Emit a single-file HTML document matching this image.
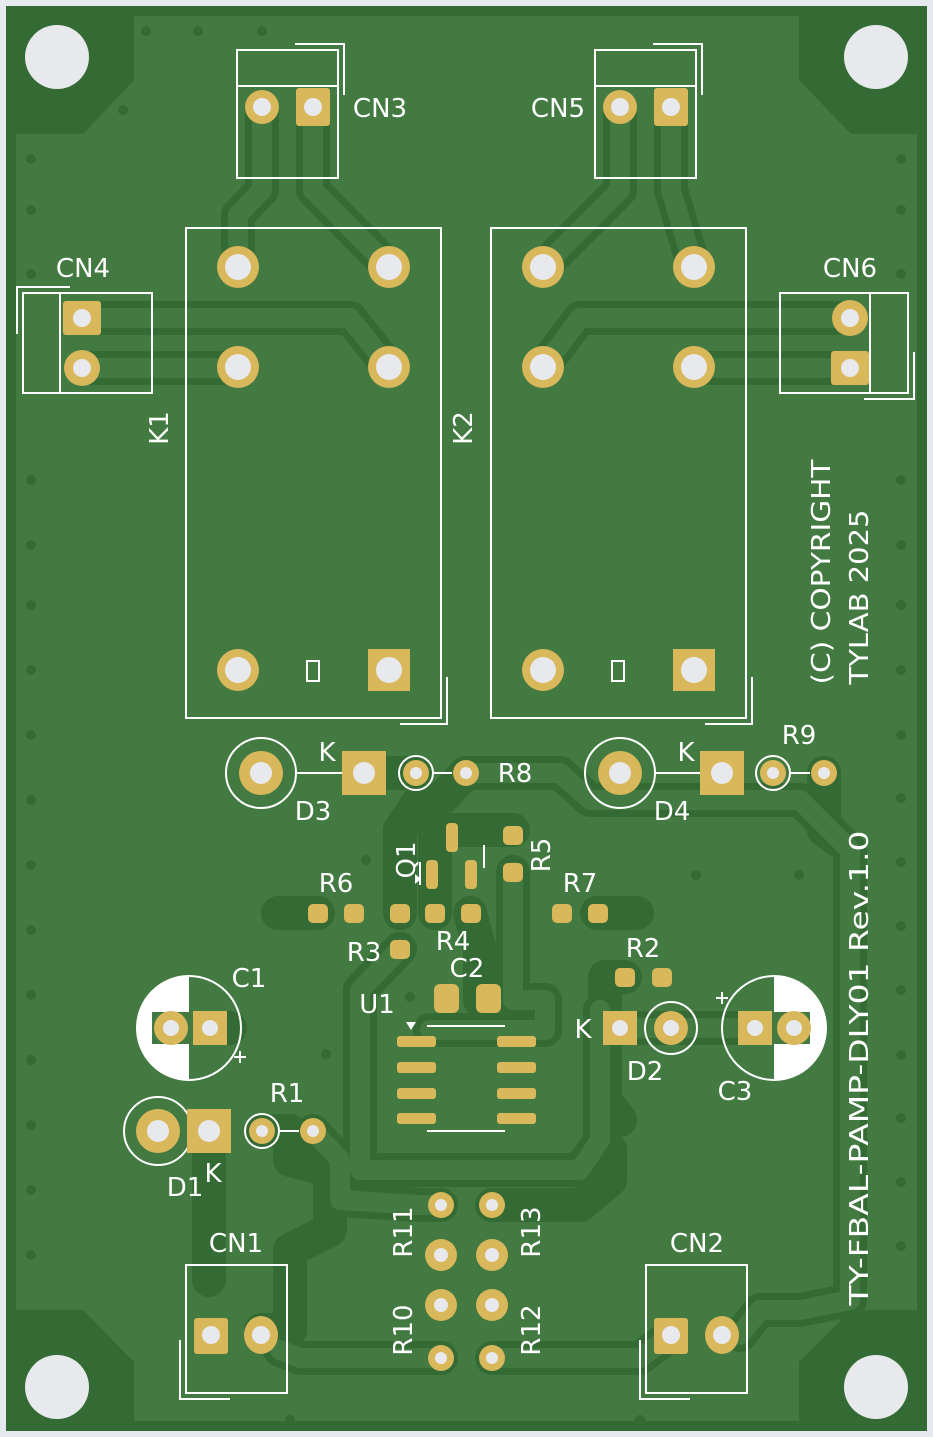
<!DOCTYPE html>
<html><head><meta charset="utf-8"><style>
html,body{margin:0;padding:0;background:#e6e9ed;}
svg{display:block}
text{font-family:"DejaVu Sans","Liberation Sans",sans-serif;fill:#fff;font-size:26px}
</style></head><body>
<svg width="933" height="1437" viewBox="0 0 933 1437" xmlns="http://www.w3.org/2000/svg">
<rect x="0" y="0" width="933" height="1437" fill="#e6e9ed"/>
<rect x="6" y="6" width="921" height="1425" fill="#346a34"/>
<path d="M134,16 H799 V80 L851,134 H917 V1310 H851 L799,1362 V1421 H134 V1362 L83,1310 H16 V134 H83 L134,80 Z" fill="#427a41"/>
<g fill="none" stroke="#346a34" stroke-width="34" stroke-linejoin="round" stroke-linecap="round">
<path d="M262,107 V190 L238,215 V267"/>
<path d="M313,107 V190 L389,267"/>
<path d="M620,107 V190 L543,267"/>
<path d="M671,107 V190 L694,267"/>
<path d="M82,318 H350 L389,367"/>
<path d="M82,368 H238"/>
<path d="M850,318 H580 L543,367"/>
<path d="M850,368 H694"/>
<path d="M364,773 H416 M466,773 L440,800 H420 L400,830 V913"/>
<path d="M466,773 H560 L590,800 H800 L850,850 V1300 L800,1310 H760 L740,1335"/>
<path d="M824,773 V830 L845,845"/>
<path d="M278,913 H318 M597,913 H637"/>
<path d="M435,913 V830 H513"/>
<path d="M513,872 V1000 H545 V1030 H430"/>
<path d="M400,949 L360,990 V1170 H580 L600,1140 V1010"/>
<path d="M470,913 L480,950 V1000"/>
<path d="M625,977 H605 V1100 L620,1120"/>
<path d="M620,1028 H755"/>
<path d="M210,1028 H230 M262,1131 H290 V1160 L330,1170 V1230 L290,1250 V1330 H261"/>
<path d="M313,1131 L340,1160 V1200 L420,1205 H441"/>
<path d="M209,1131 V1280"/>
<path d="M441,1358 H300 L280,1350 M492,1358 H640 L671,1335"/>
<path d="M492,1205 H580 L610,1180 V1150"/>
</g>
<g fill="none" stroke="#427a41" stroke-width="20" stroke-linejoin="round" stroke-linecap="round">
<path d="M262,107 V190 L238,215 V267"/>
<path d="M313,107 V190 L389,267"/>
<path d="M620,107 V190 L543,267"/>
<path d="M671,107 V190 L694,267"/>
<path d="M82,318 H350 L389,367"/>
<path d="M82,368 H238"/>
<path d="M850,318 H580 L543,367"/>
<path d="M850,368 H694"/>
<path d="M466,773 H560 L590,800 H800 L850,850 V1300 L800,1310 H760 L740,1335"/>
<path d="M513,872 V1000 H545 V1030 H430"/>
<path d="M400,949 L360,990 V1170 H580 L600,1140 V1010"/>
<path d="M620,1028 H755"/>
<path d="M313,1131 L340,1160 V1200 L420,1205 H441"/>
<path d="M441,1358 H300 L280,1350 M492,1358 H640 L671,1335"/>
</g>
<g fill="#346a34">
<circle cx="146" cy="31" r="5"/><circle cx="198" cy="31" r="5"/><circle cx="262" cy="31" r="5"/><circle cx="123" cy="110" r="5"/>
<circle cx="31" cy="159" r="5"/><circle cx="31" cy="210" r="5"/><circle cx="31" cy="274" r="5"/>
<circle cx="31" cy="480" r="5"/><circle cx="31" cy="545" r="5"/><circle cx="31" cy="605" r="5"/><circle cx="31" cy="670" r="5"/><circle cx="31" cy="735" r="5"/><circle cx="31" cy="800" r="5"/><circle cx="31" cy="865" r="5"/><circle cx="31" cy="930" r="5"/><circle cx="31" cy="995" r="5"/><circle cx="31" cy="1060" r="5"/><circle cx="31" cy="1125" r="5"/><circle cx="31" cy="1190" r="5"/><circle cx="31" cy="1255" r="5"/>
<circle cx="901" cy="159" r="5"/><circle cx="901" cy="210" r="5"/><circle cx="901" cy="274" r="5"/><circle cx="901" cy="480" r="5"/><circle cx="901" cy="545" r="5"/><circle cx="901" cy="605" r="5"/><circle cx="901" cy="670" r="5"/><circle cx="901" cy="735" r="5"/><circle cx="901" cy="798" r="5"/><circle cx="901" cy="862" r="5"/><circle cx="901" cy="926" r="5"/><circle cx="901" cy="990" r="5"/><circle cx="901" cy="1055" r="5"/><circle cx="901" cy="1118" r="5"/><circle cx="901" cy="1182" r="5"/><circle cx="901" cy="1246" r="5"/>
<circle cx="696" cy="875" r="5"/><circle cx="799" cy="875" r="5"/><circle cx="366" cy="860" r="5"/><circle cx="410" cy="997" r="5"/><circle cx="326" cy="1054" r="5"/><circle cx="607" cy="1168" r="5"/><circle cx="640" cy="1420" r="5"/><circle cx="290" cy="1420" r="5"/>
</g>
<g fill="#e8e9ec"><circle cx="57" cy="57" r="32"/><circle cx="876" cy="57" r="32"/><circle cx="57" cy="1387" r="32"/><circle cx="876" cy="1387" r="32"/></g>
<g fill="none" stroke="#fff" stroke-width="2">
<rect x="237" y="50" width="101" height="128"/><line x1="237" y1="86" x2="338" y2="86"/><path d="M295,44 H344 V95"/>
<rect x="595" y="50" width="101" height="128"/><line x1="595" y1="86" x2="696" y2="86"/><path d="M653,44 H702 V95"/>
<rect x="186" y="228" width="255" height="490"/><path d="M400,724 H447 V677"/>
<rect x="491" y="228" width="255" height="490"/><path d="M705,724 H752 V677"/>
<rect x="307" y="661" width="12" height="20"/><rect x="612" y="661" width="12" height="20"/>
<rect x="23" y="293" width="129" height="100"/><line x1="60" y1="293" x2="60" y2="393"/><path d="M17,334 V287 H70"/>
<rect x="780" y="293" width="128" height="100"/><line x1="870" y1="293" x2="870" y2="393"/><path d="M914,352 V399 H864"/>
<rect x="186" y="1265" width="101" height="128"/><path d="M180,1340 V1399 H230"/>
<rect x="646" y="1265" width="101" height="128"/><path d="M640,1340 V1399 H690"/>
<circle cx="261" cy="773" r="35"/><line x1="296" y1="773" x2="342" y2="773"/>
<circle cx="620" cy="773" r="35"/><line x1="655" y1="773" x2="700" y2="773"/>
<circle cx="416" cy="773" r="17"/><line x1="433" y1="773" x2="452" y2="773"/>
<circle cx="773" cy="773" r="17"/><line x1="790" y1="773" x2="810" y2="773"/>
<circle cx="158" cy="1131" r="34"/>
<circle cx="262" cy="1131" r="17"/><line x1="279" y1="1131" x2="299" y2="1131"/>
<circle cx="671" cy="1028" r="26"/>
<circle cx="189" cy="1028" r="52"/><circle cx="774" cy="1028" r="52"/>
<path d="M427,1026 H505 M427,1131 H505"/>
<line x1="420" y1="862" x2="420" y2="885"/><line x1="484" y1="845" x2="484" y2="868"/>
</g>
<path d="M189,976 A52,52 0 0 0 189,1080 V1044 H152 V1012 H189 Z" fill="#fff"/>
<path d="M774,976 A52,52 0 0 1 774,1080 V1044 H810 V1012 H774 Z" fill="#fff"/>
<g stroke="#fff" stroke-width="2"><path d="M234,1057 H246 M240,1051 V1063"/><path d="M716,998 H728 M722,992 V1004"/></g>
<path d="M406,1022 L416,1022 L411,1030 Z" fill="#fff"/>
<path d="M415,874 L421,879 L415,884 Z" fill="#fff"/>
<g fill="#d9b75b">
<circle cx="262" cy="107" r="17"/><rect x="296" y="88" width="34" height="38" rx="3"/>
<circle cx="620" cy="107" r="17"/><rect x="654" y="88" width="34" height="38" rx="3"/>
<circle cx="238" cy="267" r="21"/><circle cx="389" cy="267" r="21"/><circle cx="238" cy="367" r="21"/><circle cx="389" cy="367" r="21"/><circle cx="238" cy="670" r="21"/><rect x="368" y="649" width="42" height="42"/>
<circle cx="543" cy="267" r="21"/><circle cx="694" cy="267" r="21"/><circle cx="543" cy="367" r="21"/><circle cx="694" cy="367" r="21"/><circle cx="543" cy="670" r="21"/><rect x="673" y="649" width="42" height="42"/>
<rect x="63" y="301" width="38" height="34" rx="3"/><circle cx="82" cy="368" r="18"/>
<circle cx="850" cy="318" r="18"/><rect x="831" y="351" width="38" height="34" rx="3"/>
<circle cx="261" cy="773" r="22"/><rect x="342" y="751" width="44" height="44"/>
<circle cx="620" cy="773" r="22"/><rect x="700" y="751" width="44" height="44"/>
<circle cx="416" cy="773" r="13"/><circle cx="466" cy="773" r="13"/><circle cx="773" cy="773" r="13"/><circle cx="824" cy="773" r="13"/>
<circle cx="171" cy="1028" r="17"/><rect x="193" y="1011" width="34" height="34"/>
<rect x="738" y="1011" width="34" height="34"/><circle cx="794" cy="1028" r="17"/>
<circle cx="158" cy="1131" r="22"/><rect x="187" y="1109" width="44" height="44"/>
<circle cx="262" cy="1131" r="13"/><circle cx="313" cy="1131" r="13"/>
<rect x="603" y="1011" width="34" height="34"/><circle cx="671" cy="1028" r="17"/>
<rect x="194" y="1318" width="34" height="36" rx="3"/><ellipse cx="261" cy="1335" rx="17" ry="19"/>
<rect x="654" y="1318" width="34" height="36" rx="3"/><ellipse cx="722" cy="1335" rx="17" ry="19"/>
<circle cx="441" cy="1205" r="13"/><circle cx="441" cy="1255" r="16"/><circle cx="441" cy="1305" r="16"/><circle cx="441" cy="1358" r="13"/>
<circle cx="492" cy="1205" r="13"/><circle cx="492" cy="1255" r="16"/><circle cx="492" cy="1305" r="16"/><circle cx="492" cy="1358" r="13"/>
<rect x="308" y="904" width="20" height="19" rx="5"/><rect x="344" y="904" width="20" height="19" rx="5"/>
<rect x="552" y="904" width="20" height="19" rx="5"/><rect x="588" y="904" width="20" height="19" rx="5"/>
<rect x="390" y="904" width="20" height="19" rx="5"/><rect x="390" y="940" width="20" height="19" rx="5"/>
<rect x="425" y="904" width="20" height="19" rx="5"/><rect x="461" y="904" width="20" height="19" rx="5"/>
<rect x="503" y="826" width="20" height="19" rx="5"/><rect x="503" y="863" width="20" height="19" rx="5"/>
<rect x="615" y="968" width="20" height="19" rx="5"/><rect x="652" y="968" width="20" height="19" rx="5"/>
<rect x="446" y="823" width="12" height="29" rx="4"/><rect x="426" y="860" width="12" height="29" rx="4"/><rect x="465" y="860" width="12" height="29" rx="4"/>
<rect x="434" y="984" width="25" height="29" rx="6"/><rect x="476" y="984" width="25" height="29" rx="6"/>
<rect x="397" y="1036" width="39" height="11" rx="3"/><rect x="397" y="1062" width="39" height="11" rx="3"/><rect x="397" y="1088" width="39" height="11" rx="3"/><rect x="397" y="1113" width="39" height="11" rx="3"/>
<rect x="497" y="1036" width="39" height="11" rx="3"/><rect x="497" y="1062" width="39" height="11" rx="3"/><rect x="497" y="1088" width="39" height="11" rx="3"/><rect x="497" y="1113" width="39" height="11" rx="3"/>
</g>
<g fill="#e8e9ec">
<circle cx="262" cy="107" r="9"/><circle cx="313" cy="107" r="9"/><circle cx="620" cy="107" r="9"/><circle cx="671" cy="107" r="9"/>
<circle cx="238" cy="267" r="13"/><circle cx="389" cy="267" r="13"/><circle cx="238" cy="367" r="13"/><circle cx="389" cy="367" r="13"/><circle cx="238" cy="670" r="13"/><circle cx="389" cy="670" r="13"/>
<circle cx="543" cy="267" r="13"/><circle cx="694" cy="267" r="13"/><circle cx="543" cy="367" r="13"/><circle cx="694" cy="367" r="13"/><circle cx="543" cy="670" r="13"/><circle cx="694" cy="670" r="13"/>
<circle cx="82" cy="318" r="9"/><circle cx="82" cy="368" r="9"/><circle cx="850" cy="318" r="9"/><circle cx="850" cy="368" r="9"/>
<circle cx="261" cy="773" r="11"/><circle cx="364" cy="773" r="11"/><circle cx="620" cy="773" r="11"/><circle cx="722" cy="773" r="11"/>
<circle cx="416" cy="773" r="6"/><circle cx="466" cy="773" r="6"/><circle cx="773" cy="773" r="6"/><circle cx="824" cy="773" r="6"/>
<circle cx="171" cy="1028" r="8"/><circle cx="210" cy="1028" r="8"/><circle cx="755" cy="1028" r="8"/><circle cx="794" cy="1028" r="8"/>
<circle cx="158" cy="1131" r="11"/><circle cx="209" cy="1131" r="11"/><circle cx="262" cy="1131" r="6"/><circle cx="313" cy="1131" r="6"/>
<circle cx="620" cy="1028" r="8"/><circle cx="671" cy="1028" r="8"/>
<circle cx="211" cy="1335" r="9"/><circle cx="261" cy="1335" r="9"/><circle cx="671" cy="1335" r="9"/><circle cx="722" cy="1335" r="9"/>
<circle cx="441" cy="1205" r="6"/><circle cx="441" cy="1255" r="7"/><circle cx="441" cy="1305" r="7"/><circle cx="441" cy="1358" r="6"/>
<circle cx="492" cy="1205" r="6"/><circle cx="492" cy="1255" r="7"/><circle cx="492" cy="1305" r="7"/><circle cx="492" cy="1358" r="6"/>
</g>
<g text-anchor="middle">
<text x="380" y="117">CN3</text><text x="558" y="117">CN5</text>
<text x="83" y="277">CN4</text><text x="850" y="277">CN6</text>
<text x="236" y="1252">CN1</text><text x="697" y="1252">CN2</text>
<text transform="translate(168,428) rotate(-90)">K1</text>
<text transform="translate(472,428) rotate(-90)">K2</text>
<text x="327" y="761">K</text><text x="686" y="761">K</text>
<text x="313" y="820">D3</text><text x="672" y="820">D4</text>
<text x="515" y="782">R8</text><text x="799" y="744">R9</text>
<text x="336" y="892">R6</text><text x="580" y="892">R7</text>
<text x="364" y="961">R3</text><text x="453" y="950">R4</text>
<text transform="translate(550,855) rotate(-90)">R5</text>
<text transform="translate(415,860) rotate(-90)">Q1</text>
<text x="467" y="977">C2</text><text x="377" y="1013">U1</text>
<text x="643" y="957">R2</text><text x="249" y="987">C1</text><text x="735" y="1100">C3</text>
<text x="583" y="1038">K</text><text x="645" y="1080">D2</text>
<text x="287" y="1102">R1</text><text x="213" y="1182">K</text><text x="185" y="1196">D1</text>
<text transform="translate(412,1232) rotate(-90)">R11</text>
<text transform="translate(412,1330) rotate(-90)">R10</text>
<text transform="translate(540,1232) rotate(-90)">R13</text>
<text transform="translate(540,1330) rotate(-90)">R12</text>
<text transform="translate(830,572) rotate(-90)" font-size="32" textLength="225" lengthAdjust="spacingAndGlyphs">(C) COPYRIGHT</text>
<text transform="translate(868,597) rotate(-90)" font-size="32" textLength="175" lengthAdjust="spacingAndGlyphs">TYLAB 2025</text>
<text transform="translate(868,1068) rotate(-90)" font-size="32" textLength="475" lengthAdjust="spacingAndGlyphs">TY-FBAL-PAMP-DLY01 Rev.1.0</text>
</g>
</svg>
</body></html>
